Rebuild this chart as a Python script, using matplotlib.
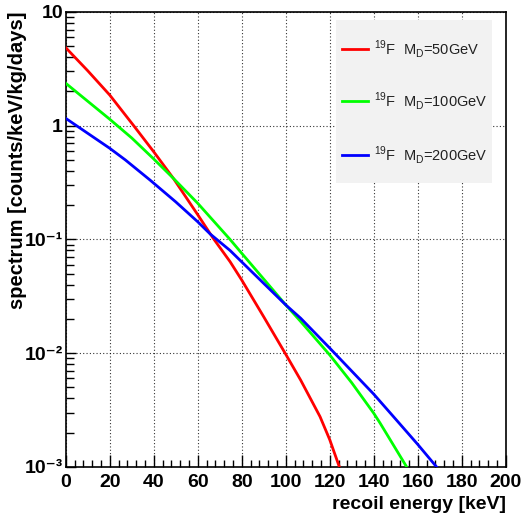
import numpy as np
import matplotlib.pyplot as plt
from matplotlib.patches import Rectangle
from matplotlib.ticker import LogLocator, MultipleLocator, NullFormatter, FuncFormatter

# recoil energy [keV] and spectrum [counts/keV/kg/days]
energy_50 = [0, 10, 20, 30.9, 40, 48.9, 60, 67.1, 74.7, 80, 90, 100, 106.8, 115.6, 120, 124.4]
spec_50 = [4.85, 3.04, 1.86, 1.0, 0.59, 0.345, 0.165, 0.102, 0.0638, 0.044, 0.0209, 0.0098, 0.0058, 0.00277, 0.00174, 0.001]

energy_100 = [0, 10, 20, 30, 40, 48.9, 60, 74.7, 80, 100, 106.8, 120, 130, 140, 142.9, 155]
spec_100 = [2.36, 1.64, 1.14, 0.78, 0.51, 0.345, 0.208, 0.1, 0.0756, 0.0266, 0.019, 0.00966, 0.0055, 0.00297, 0.00243, 0.001]

energy_200 = [0, 10, 20, 27.1, 38.3, 50, 60, 65.6, 74.7, 80, 100, 106.8, 120, 140, 150, 160, 168.6]
spec_200 = [1.16, 0.857, 0.633, 0.5, 0.333, 0.214, 0.143, 0.112, 0.080, 0.0635, 0.0266, 0.0203, 0.0111, 0.00437, 0.00263, 0.00158, 0.001]

colors = ['red', '#00ff00', 'blue']
labels = [r'$^{19}$F  M$_{\rm D}$=50GeV',
          r'$^{19}$F  M$_{\rm D}$=100GeV',
          r'$^{19}$F  M$_{\rm D}$=200GeV']
ytick_text = {1: '10', 0: '1', -1: '10\u207b\u00b9', -2: '10\u207b\u00b2', -3: '10\u207b\u00b3'}

plt.rcParams['font.family'] = ['Liberation Sans', 'DejaVu Sans']
plt.rcParams['mathtext.fontset'] = 'custom'
plt.rcParams['mathtext.rm'] = 'Liberation Sans'
plt.rcParams['mathtext.bf'] = 'Liberation Sans:bold'

fig = plt.figure(figsize=(5.24, 5.22), dpi=100)
ax = fig.add_axes([0.1254, 0.1054, 0.8397, 0.8718])

curves = [(energy_50, spec_50), (energy_100, spec_100), (energy_200, spec_200)]
for (xs, ys), col in zip(curves, colors):
    ax.plot(xs, ys, color=col, lw=2.0, zorder=3)

ax.set_yscale('log')
ax.set_xlim(0, 200)
ax.set_ylim(1e-3, 10)

ax.xaxis.set_major_locator(MultipleLocator(20))
ax.xaxis.set_minor_locator(MultipleLocator(4))
ax.yaxis.set_major_locator(LogLocator(base=10, numticks=10))
ax.yaxis.set_minor_locator(LogLocator(base=10, subs=np.arange(2, 10), numticks=20))
ax.yaxis.set_minor_formatter(NullFormatter())
ax.yaxis.set_major_formatter(FuncFormatter(lambda v, pos: ytick_text.get(int(round(np.log10(v))), '')))

ax.grid(True, which='major', ls=(0, (1, 2)), color='black', lw=0.8, alpha=0.8)
ax.tick_params(which='both', direction='in', top=False, right=False, width=1.0)
ax.tick_params(axis='x', which='major', length=9, labelsize=14, pad=5)
ax.tick_params(axis='x', which='minor', length=5)
ax.tick_params(axis='y', which='major', length=7, labelsize=14, pad=2)
ax.tick_params(axis='y', which='minor', length=6)
for lbl in ax.get_xticklabels() + ax.get_yticklabels():
    lbl.set_fontweight('bold')
for sp in ax.spines.values():
    sp.set_linewidth(1.2)

ax.set_xlabel('recoil energy [keV]', fontsize=14, fontweight='bold', loc='right', labelpad=4)
ax.set_ylabel('spectrum [counts/keV/kg/days]', fontsize=14.5, fontweight='bold', loc='top')
ax.yaxis.set_label_coords(-0.088, 1.0)

# legend box
ax.add_patch(Rectangle((0.614, 0.624), 0.355, 0.358, transform=ax.transAxes,
                       facecolor='#f2f2f2', edgecolor='none', zorder=4))
rows = [0.918, 0.804, 0.686]
for yr, col, lab in zip(rows, colors, labels):
    ax.plot([0.628, 0.688], [yr, yr], transform=ax.transAxes, color=col, lw=2.0, zorder=5)
    ax.text(0.700, yr, lab, transform=ax.transAxes, fontsize=10.5, va='center',
            ha='left', color='#222222', zorder=5)

fig.savefig('out.png', dpi=100)
